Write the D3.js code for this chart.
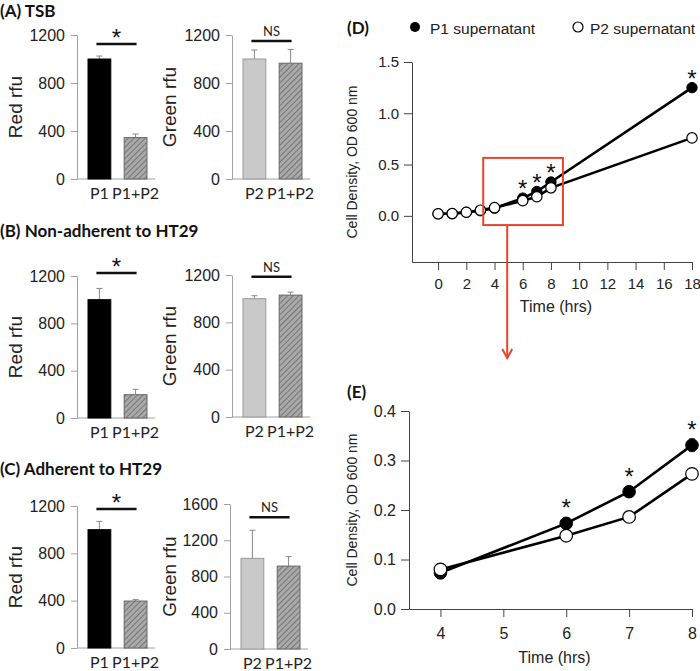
<!DOCTYPE html>
<html><head><meta charset="utf-8">
<script src="https://cdn.jsdelivr.net/npm/d3@7/dist/d3.min.js"></script>
<style>
body{margin:0;background:#fff;}
svg{display:block;}
</style></head>
<body>
<svg id="chart" width="700" height="671"></svg>
<script>
// ---------- DATA ----------
const redCats = ["P1", "P1+P2"];
const greenCats = ["P2", "P1+P2"];

const tsbRed = [1000, 345];
const tsbRedErr = [25, 30];
const tsbGreen = [1000, 965];
const tsbGreenErr = [75, 115];

const nonAdhRed = [1000, 197];
const nonAdhRedErr = [95, 45];
const nonAdhGreen = [1000, 1030];
const nonAdhGreenErr = [25, 25];

const adhRed = [1000, 397];
const adhRedErr = [70, 12];
const adhGreen = [1000, 915];
const adhGreenErr = [310, 105];

const redTicks = [0, 400, 800, 1200];
const greenTicks16 = [0, 400, 800, 1200, 1600];

const sigLevels = {A: [1125, 1150], B: [1225, 1185], C: [1175, 1455]};
const sigTexts = ["*", "NS"];

const timeD = [0, 1, 2, 3, 4, 6, 7, 8, 18];
const p1D = [0.02, 0.022, 0.035, 0.05, 0.075, 0.173, 0.237, 0.33, 1.25];
const p2D = [0.02, 0.022, 0.035, 0.055, 0.08, 0.148, 0.186, 0.273, 0.76];
const starTimesD = [6, 7, 8, 18];

const timeE = [4, 6, 7, 8];
const p1E = [0.073, 0.173, 0.237, 0.331];
const p1EErr = [0.004, 0.005, 0.006, 0.013];
const p2E = [0.08, 0.148, 0.186, 0.273];
const starTimesE = [6, 7, 8];

const dXTicks = [0, 2, 4, 6, 8, 10, 12, 14, 16, 18];
const dYTicks = [0, 0.5, 1.0, 1.5];
const eXTicks = [4, 5, 6, 7, 8];
const eYTicks = [0, 0.1, 0.2, 0.3, 0.4];
const zoomBox = {x: [3.2, 8.85], y: [-0.09, 0.565]};

const panelTitles = ["(A) TSB", "(B) Non-adherent to HT29", "(C) Adherent to HT29", "(D)", "(E)"];
const legendLabels = ["P1 supernatant", "P2 supernatant"];

// ---------- DRAW ----------
const svg = d3.select("#chart");
const defs = svg.append("defs");
const pat = defs.append("pattern").attr("id", "hatch").attr("patternUnits", "userSpaceOnUse")
  .attr("width", 4).attr("height", 4).attr("patternTransform", "rotate(45)");
pat.append("rect").attr("width", 4).attr("height", 4).attr("fill", "#a9a9a9");
pat.append("line").attr("x1", 0).attr("y1", 0).attr("x2", 0).attr("y2", 4)
  .attr("stroke", "#5a5a5a").attr("stroke-width", 1.3);

const sans = "'Liberation Sans', Arial, sans-serif";
const cal = "Lato, 'Open Sans', sans-serif";

function barPanel(cfg) {
  const g = svg.append("g");
  const y = d3.scaleLinear().domain([0, cfg.max]).range([cfg.y0, cfg.y1]);
  const x = d3.scaleBand().domain(cfg.cats).range([cfg.x0 + 11, cfg.x0 + 70]).paddingInner(0.37);
  const ax = g.append("g").attr("transform", `translate(${cfg.x0},0)`)
    .call(d3.axisLeft(y).tickValues(cfg.ticks).tickSize(6).tickSizeOuter(0).tickPadding(6).tickFormat(d3.format("d")));
  ax.selectAll("path,line").attr("stroke", "#a0a0a0");
  ax.selectAll("text").attr("font-family", sans).attr("font-size", 16).attr("fill", "#222");
  g.append("line").attr("x1", cfg.x0).attr("x2", cfg.x0 + 78).attr("y1", cfg.y0).attr("y2", cfg.y0)
    .attr("stroke", "#a0a0a0");
  cfg.cats.forEach((c, i) => {
    const v = cfg.vals[i], e = cfg.errs[i];
    const cx = x(c) + x.bandwidth() / 2;
    g.append("line").attr("x1", cx).attr("x2", cx)
      .attr("y1", y(v)).attr("y2", y(v + e)).attr("stroke", "#888").attr("stroke-width", 1);
    g.append("line").attr("x1", cx - 3).attr("x2", cx + 3)
      .attr("y1", y(v + e)).attr("y2", y(v + e)).attr("stroke", "#888").attr("stroke-width", 1);
    g.append("rect").attr("x", x(c)).attr("width", x.bandwidth())
      .attr("y", y(v)).attr("height", y(0) - y(v))
      .attr("fill", cfg.fills[i]).attr("stroke", cfg.strokes[i]).attr("stroke-width", 1);
    g.append("text").attr("x", cx).attr("y", cfg.y0 + 20)
      .attr("text-anchor", "middle").attr("font-family", cal).attr("font-size", 16).attr("fill", "#222").text(c);
  });
  const sy = y(cfg.sig);
  const sx1 = x(cfg.cats[0]) + x.bandwidth() / 2 - 3, sx2 = x(cfg.cats[1]) + x.bandwidth() / 2 + 1;
  g.append("line").attr("x1", sx1).attr("x2", sx2).attr("y1", sy).attr("y2", sy)
    .attr("stroke", "#111").attr("stroke-width", 2.5);
  if (cfg.sigText === "*") {
    g.append("text").attr("x", (sx1 + sx2) / 2).attr("y", sy + 2).attr("text-anchor", "middle")
      .attr("font-family", sans).attr("font-size", 24).attr("fill", "#111").text("*");
  } else {
    g.append("text").attr("x", (sx1 + sx2) / 2).attr("y", sy - 5).attr("text-anchor", "middle")
      .attr("font-family", cal).attr("font-size", 13).attr("fill", "#222").text(cfg.sigText);
  }
  g.append("text").attr("transform", `translate(${cfg.lx},${(cfg.y0 + cfg.y1) / 2}) rotate(-90)`)
    .attr("text-anchor", "middle").attr("font-family", sans).attr("font-size", 19).attr("fill", "#222")
    .text(cfg.label);
}

const redFills = ["#000", "url(#hatch)"], redStrokes = ["#000", "#666"];
const greenFills = ["#c9c9c9", "url(#hatch)"], greenStrokes = ["#999", "#666"];

barPanel({x0: 77, y0: 179, y1: 35, max: 1200, ticks: redTicks, cats: redCats, vals: tsbRed, errs: tsbRedErr,
  fills: redFills, strokes: redStrokes, sig: sigLevels.A[0], sigText: sigTexts[0], lx: 22, label: "Red rfu"});
barPanel({x0: 232, y0: 179, y1: 35, max: 1200, ticks: redTicks, cats: greenCats, vals: tsbGreen, errs: tsbGreenErr,
  fills: greenFills, strokes: greenStrokes, sig: sigLevels.A[1], sigText: sigTexts[1], lx: 176, label: "Green rfu"});
barPanel({x0: 77, y0: 418, y1: 276, max: 1200, ticks: redTicks, cats: redCats, vals: nonAdhRed, errs: nonAdhRedErr,
  fills: redFills, strokes: redStrokes, sig: sigLevels.B[0], sigText: sigTexts[0], lx: 22, label: "Red rfu"});
barPanel({x0: 232, y0: 417, y1: 275, max: 1200, ticks: redTicks, cats: greenCats, vals: nonAdhGreen, errs: nonAdhGreenErr,
  fills: greenFills, strokes: greenStrokes, sig: sigLevels.B[1], sigText: sigTexts[1], lx: 176, label: "Green rfu"});
barPanel({x0: 77, y0: 648, y1: 506, max: 1200, ticks: redTicks, cats: redCats, vals: adhRed, errs: adhRedErr,
  fills: redFills, strokes: redStrokes, sig: sigLevels.C[0], sigText: sigTexts[0], lx: 22, label: "Red rfu"});
barPanel({x0: 230, y0: 649, y1: 504, max: 1600, ticks: greenTicks16, cats: greenCats, vals: adhGreen, errs: adhGreenErr,
  fills: greenFills, strokes: greenStrokes, sig: sigLevels.C[1], sigText: sigTexts[1], lx: 176, label: "Green rfu"});

[[0, 17], [0, 237], [0, 475], [347, 34], [347, 398]].forEach((p, i) => {
  svg.append("text").attr("x", p[0]).attr("y", p[1]).attr("font-family", cal).attr("font-weight", "bold")
    .attr("font-size", 17).attr("fill", "#111").text(panelTitles[i]);
});

// ---------- LINE PANELS ----------
function linePanel(cfg) {
  const g = svg.append("g");
  const x = d3.scaleLinear().domain(cfg.xd).range([cfg.x0, cfg.x1]);
  const y = d3.scaleLinear().domain(cfg.yd).range([cfg.y0, cfg.y1]);
  const ay = g.append("g").attr("transform", `translate(${cfg.x0},0)`)
    .call(d3.axisLeft(y).tickValues(cfg.yt).tickSize(8).tickSizeOuter(0).tickPadding(5).tickFormat(d3.format(".1f")));
  const axx = g.append("g").attr("transform", `translate(0,${cfg.y0})`)
    .call(d3.axisBottom(x).tickValues(cfg.xt).tickSize(8).tickSizeOuter(0).tickPadding(cfg.xpad).tickFormat(d3.format("d")));
  [ay, axx].forEach(a => {
    a.selectAll("path,line").attr("stroke", "#444");
    a.selectAll("text").attr("font-family", sans).attr("font-size", cfg.fs).attr("fill", "#222");
  });
  g.append("text").attr("x", (cfg.x0 + cfg.x1) / 2 + 4).attr("y", cfg.y0 + cfg.tOff).attr("text-anchor", "middle")
    .attr("font-family", sans).attr("font-size", 16).attr("fill", "#222").text("Time (hrs)");
  g.append("text").attr("transform", `translate(${cfg.lx},${(cfg.y0 + cfg.y1) / 2}) rotate(-90)`)
    .attr("text-anchor", "middle").attr("font-family", sans).attr("font-size", 14).attr("fill", "#222")
    .text("Cell Density, OD 600 nm");
  const line = d3.line().x(d => x(d[0])).y(d => y(d[1]));
  const s1 = cfg.t.map((t, i) => [t, cfg.p1[i]]);
  const s2 = cfg.t.map((t, i) => [t, cfg.p2[i]]);
  g.append("path").datum(s1).attr("d", line).attr("fill", "none").attr("stroke", "#000").attr("stroke-width", 2.6);
  g.append("path").datum(s2).attr("d", line).attr("fill", "none").attr("stroke", "#000").attr("stroke-width", 2.6);
  if (cfg.err) {
    s1.forEach((d, i) => {
      const e = cfg.err[i];
      g.append("line").attr("x1", x(d[0])).attr("x2", x(d[0])).attr("y1", y(d[1] - e)).attr("y2", y(d[1] + e))
        .attr("stroke", "#555").attr("stroke-width", 1);
      [d[1] - e, d[1] + e].forEach(v => g.append("line").attr("x1", x(d[0]) - 3).attr("x2", x(d[0]) + 3)
        .attr("y1", y(v)).attr("y2", y(v)).attr("stroke", "#555").attr("stroke-width", 1));
    });
  }
  g.selectAll(null).data(s1).join("circle").attr("cx", d => x(d[0])).attr("cy", d => y(d[1]))
    .attr("r", cfg.r).attr("fill", "#000").attr("stroke", "#000").attr("stroke-width", 1);
  g.selectAll(null).data(s2).join("circle").attr("cx", d => x(d[0])).attr("cy", d => y(d[1]))
    .attr("r", cfg.r).attr("fill", "#fff").attr("stroke", "#000").attr("stroke-width", 1.2);
  cfg.stars.forEach(t => {
    const i = cfg.t.indexOf(t);
    g.append("text").attr("x", x(t)).attr("y", y(cfg.p1[i]) - cfg.starOff).attr("text-anchor", "middle")
      .attr("font-family", sans).attr("font-size", 24).attr("fill", "#111").text("*");
  });
  return {x, y, g};
}

const D = linePanel({x0: 412, x1: 692, y0: 262, y1: 62, xd: [-1.85, 18], yd: [-0.45, 1.5], xt: dXTicks, yt: dYTicks,
  t: timeD, p1: p1D, p2: p2D, r: 5.2, stars: starTimesD, starOff: 1, fs: 15, xpad: 8, tOff: 50, lx: 357});
const E = linePanel({x0: 409, x1: 692, y0: 609, y1: 411, xd: [3.5, 8], yd: [0, 0.4], xt: eXTicks, yt: eYTicks,
  t: timeE, p1: p1E, p2: p2E, r: 6.3, err: p1EErr, stars: starTimesE, starOff: 7, fs: 16, xpad: 11, tOff: 54, lx: 357});

const bx1 = D.x(zoomBox.x[0]), bx2 = D.x(zoomBox.x[1]);
const by1 = D.y(zoomBox.y[1]), by2 = D.y(zoomBox.y[0]);
svg.append("rect").attr("x", bx1).attr("y", by1).attr("width", bx2 - bx1).attr("height", by2 - by1)
  .attr("fill", "none").attr("stroke", "#e8432b").attr("stroke-width", 2);
const ax0 = D.x(4.9);
const ayEnd = E.y(0.4) - 53;
svg.append("line").attr("x1", ax0).attr("x2", ax0).attr("y1", by2).attr("y2", ayEnd)
  .attr("stroke", "#e8432b").attr("stroke-width", 2);
svg.append("path").attr("d", `M${ax0 - 5},${ayEnd - 9}L${ax0},${ayEnd}L${ax0 + 5},${ayEnd - 9}`)
  .attr("fill", "none").attr("stroke", "#e8432b").attr("stroke-width", 2);

svg.append("circle").attr("cx", 415).attr("cy", 27).attr("r", 5).attr("fill", "#000");
svg.append("text").attr("x", 430).attr("y", 34).attr("font-family", sans).attr("font-size", 15.5).attr("fill", "#222").text(legendLabels[0]);
svg.append("circle").attr("cx", 578).attr("cy", 27).attr("r", 5).attr("fill", "#fff").attr("stroke", "#000").attr("stroke-width", 1.2);
svg.append("text").attr("x", 590).attr("y", 34).attr("font-family", sans).attr("font-size", 15.5).attr("fill", "#222").text(legendLabels[1]);
</script>
</body></html>
